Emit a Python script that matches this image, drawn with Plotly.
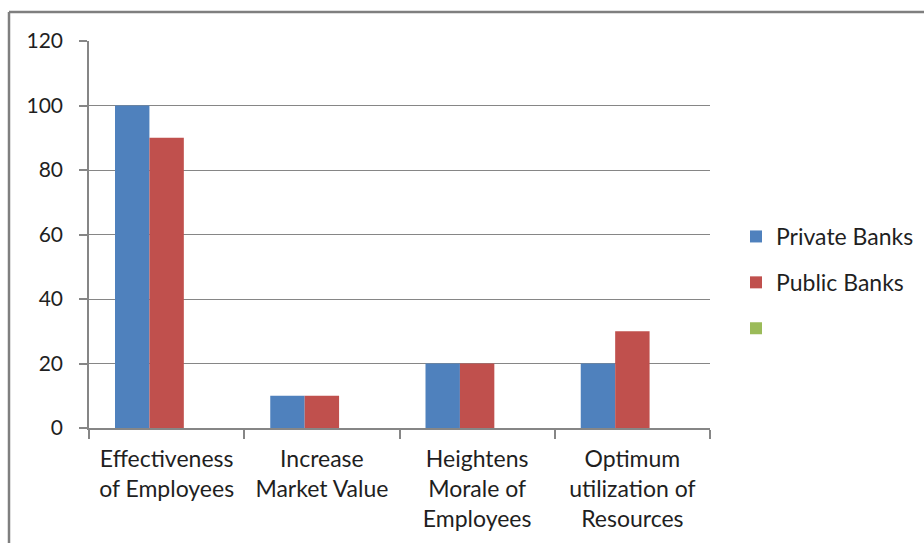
import plotly.graph_objects as go

categories = [
    "Effectiveness<br>of Employees",
    "Increase<br>Market Value",
    "Heightens<br>Morale of<br>Employees",
    "Optimum<br>utilization of<br>Resources",
]
private_banks = [100, 10, 20, 20]
public_banks = [90, 10, 20, 30]
third_series = [0, 0, 0, 0]

y_ticks = [0, 20, 40, 60, 80, 100, 120]

FONT = "Lato, 'Open Sans', sans-serif"
GRID = "#868686"
TEXT = "#1f1f1f"

fig = go.Figure()
fig.add_trace(go.Bar(x=categories, y=private_banks, name="Private Banks",
                     marker=dict(color="#4F81BD", line=dict(width=0)), legendgroup="a"))
fig.add_trace(go.Bar(x=categories, y=public_banks, name="Public Banks",
                     marker=dict(color="#C0504D", line=dict(width=0)), legendgroup="b"))
fig.add_trace(go.Bar(x=categories, y=third_series, name=" ",
                     marker=dict(color="#9BBB59", line=dict(width=0)), legendgroup="c"))

L, R, T, B = 89, 214, 41, 115
W, H = 924, 543
pw, ph = W - L - R, H - T - B

def px_x(p):
    return (p - L) / pw

def px_y(p):
    return (H - B - p) / ph

fig.update_layout(
    width=W, height=H,
    margin=dict(l=L, r=R, t=T, b=B, pad=0, autoexpand=False),
    paper_bgcolor="white", plot_bgcolor="white",
    font=dict(family=FONT, size=20, color=TEXT),
    barmode="group", bargap=0.335, bargroupgap=0,
    showlegend=True,
    legend=dict(x=px_x(736), y=px_y(215), xanchor="left", yanchor="top",
                traceorder="grouped", tracegroupgap=13,
                font=dict(family=FONT, size=23, color=TEXT),
                bgcolor="rgba(0,0,0,0)"),
    xaxis=dict(showline=True, linecolor=GRID, linewidth=1.5,
               ticks="outside", tickson="boundaries", ticklen=9, tickcolor=GRID,
               tickwidth=1.5, showgrid=False, ticklabelstandoff=10,
               tickfont=dict(size=23, color=TEXT), fixedrange=True),
    yaxis=dict(range=[0, 120], tickvals=y_ticks, showline=True, linecolor=GRID,
               linewidth=1.5, ticks="outside", ticklen=8, tickcolor=GRID, tickwidth=1.5,
               showgrid=True, gridcolor=GRID, gridwidth=1, zeroline=False,
               ticklabelstandoff=12, tickfont=dict(size=21, color=TEXT), fixedrange=True),
    shapes=[
        dict(type="line", xref="paper", yref="paper",
             x0=px_x(9), x1=px_x(9), y0=px_y(12), y1=px_y(560),
             line=dict(color="#7f7f7f", width=2.5)),
        dict(type="line", xref="paper", yref="paper",
             x0=px_x(9), x1=px_x(930), y0=px_y(12), y1=px_y(12),
             line=dict(color="#7f7f7f", width=2.5)),
    ],
)

fig.write_html("out.html")
